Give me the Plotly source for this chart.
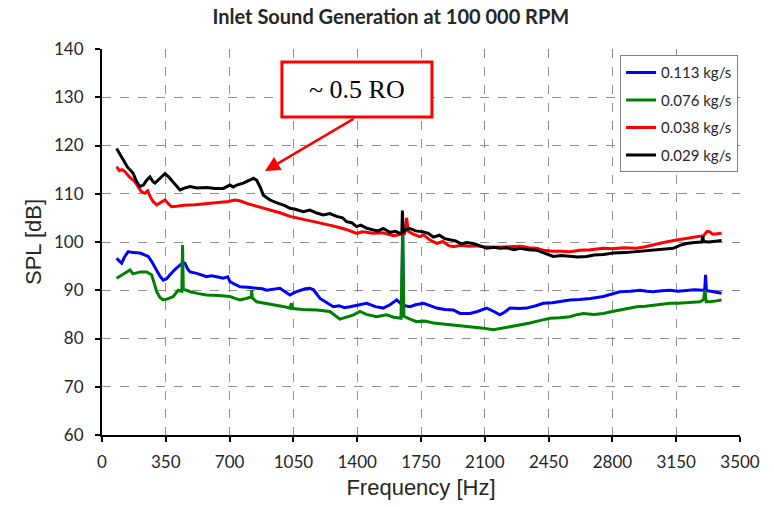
import plotly.graph_objects as go

# ---------------- data ----------------
series_names = ["0.113 kg/s", "0.076 kg/s", "0.038 kg/s", "0.029 kg/s"]
series_colors = ["#0000ff", "#008000", "#ff0000", "#000000"]

freq_blue = [80, 95, 108, 125, 144, 170, 208, 230, 254, 275, 300, 318, 336, 355, 373, 400, 428, 445, 455, 470,
             483, 520, 574, 600, 629, 665, 690, 702, 730, 757, 800, 849, 880, 903, 940, 976, 1000, 1031, 1060,
             1086, 1115, 1141, 1160, 1196, 1230, 1269, 1300, 1330, 1360, 1400, 1452, 1500, 1543, 1580, 1617,
             1640, 1645, 1649, 1653, 1660, 1690, 1720, 1763, 1800, 1836, 1880, 1927, 1964, 2019, 2060, 2110,
             2150, 2183, 2210, 2238, 2290, 2329, 2380, 2421, 2470, 2520, 2567, 2620, 2680, 2750, 2800, 2841,
             2900, 2951, 2990, 3024, 3070, 3116, 3160, 3207, 3250, 3298, 3306, 3311, 3316, 3340, 3370, 3399]
spl_blue = [96.6, 96.0, 95.6, 97.0, 98.0, 97.8, 97.7, 97.4, 97.0, 95.8, 94.2, 92.9, 92.1, 92.4, 93.2, 94.3, 95.2,
            95.7, 95.6, 94.4, 93.8, 93.5, 92.8, 93.0, 92.8, 92.5, 92.8, 91.8, 91.2, 90.7, 90.6, 90.4, 90.3, 90.0,
            90.2, 90.4, 89.8, 89.0, 89.6, 90.0, 90.3, 90.4, 90.1, 88.3, 87.5, 86.6, 86.8, 86.4, 86.6, 86.9, 87.3,
            86.6, 86.3, 87.0, 88.0, 87.2, 87.5, 103.3, 87.3, 86.8, 86.6, 87.0, 87.3, 86.8, 86.3, 86.0, 85.9, 85.2,
            85.2, 85.6, 86.3, 85.6, 84.9, 85.5, 86.3, 86.2, 86.3, 86.8, 87.3, 87.4, 87.7, 88.0, 88.1, 88.3, 88.7,
            89.2, 89.7, 89.8, 90.0, 89.8, 89.7, 89.9, 90.0, 89.8, 90.0, 90.1, 90.0, 89.9, 93.2, 89.9, 89.8, 89.6,
            89.4]

freq_green = [80, 100, 130, 154, 170, 181, 210, 245, 272, 290, 300, 318, 336, 360, 391, 418, 438, 442, 446, 470,
              483, 530, 574, 640, 702, 730, 757, 790, 818, 821, 825, 849, 900, 958, 1000, 1031, 1040, 1046, 1100,
              1178, 1250, 1305, 1340, 1380, 1415, 1450, 1507, 1561, 1600, 1640, 1650, 1656, 1690, 1726, 1770,
              1818, 1870, 1927, 1970, 2019, 2080, 2147, 2190, 2238, 2290, 2348, 2400, 2458, 2510, 2567, 2600,
              2640, 2700, 2750, 2800, 2841, 2890, 2933, 2980, 3024, 3070, 3116, 3160, 3207, 3250, 3280, 3300,
              3307, 3315, 3335, 3370, 3399]
spl_green = [92.5, 93.0, 93.6, 94.2, 93.4, 93.5, 93.8, 93.8, 93.2, 91.0, 89.7, 88.5, 88.0, 88.2, 88.7, 90.0, 89.8,
             99.4, 90.2, 89.9, 89.7, 89.3, 89.0, 88.9, 88.7, 88.3, 88.0, 88.3, 88.6, 90.0, 88.4, 87.6, 87.3, 86.9,
             86.6, 86.3, 87.3, 86.2, 86.0, 85.9, 85.6, 84.0, 84.4, 84.9, 85.6, 85.0, 84.5, 84.9, 84.4, 84.2, 101.5,
             84.6, 84.0, 83.5, 83.6, 83.2, 83.0, 82.8, 82.6, 82.4, 82.2, 81.8, 82.1, 82.4, 82.8, 83.2, 83.7, 84.2,
             84.3, 84.5, 84.9, 85.2, 85.0, 85.2, 85.6, 85.9, 86.2, 86.6, 86.7, 86.9, 87.0, 87.3, 87.3, 87.4, 87.5,
             87.6, 88.0, 90.0, 87.6, 87.6, 87.8, 88.0]

freq_red = [80, 95, 110, 126, 150, 181, 200, 217, 236, 250, 263, 280, 300, 320, 346, 365, 382, 410, 450, 510, 560,
            620, 692, 729, 760, 794, 821, 860, 900, 930, 980, 1031, 1080, 1130, 1180, 1214, 1260, 1300, 1340, 1397,
            1430, 1488, 1540, 1600, 1635, 1660, 1671, 1680, 1710, 1744, 1763, 1800, 1836, 1870, 1900, 1927, 1970,
            2010, 2050, 2092, 2150, 2200, 2256, 2300, 2340, 2384, 2420, 2470, 2520, 2567, 2620, 2680, 2750, 2800,
            2860, 2933, 2980, 3024, 3080, 3152, 3200, 3262, 3300, 3320, 3335, 3350, 3370, 3399]
spl_red = [115.6, 114.8, 115.0, 114.6, 113.5, 112.5, 111.3, 110.4, 110.1, 110.6, 109.5, 108.4, 107.7, 108.2, 108.7,
           107.9, 107.3, 107.4, 107.6, 107.7, 107.9, 108.0, 108.4, 108.7, 108.5, 108.0, 107.7, 107.3, 106.9, 106.6,
           106.0, 105.3, 104.9, 104.6, 104.1, 103.9, 103.4, 103.0, 102.6, 101.8, 102.1, 101.8, 101.9, 101.3, 101.5,
           101.7, 105.0, 102.2, 101.6, 101.1, 101.5, 100.4, 99.7, 100.1, 99.3, 99.0, 99.3, 99.1, 99.2, 99.0, 98.9,
           99.0, 99.0, 99.1, 98.8, 98.7, 98.3, 98.1, 98.1, 98.0, 98.3, 98.4, 98.7, 98.6, 98.8, 98.7, 99.0, 99.4,
           99.9, 100.4, 100.7, 101.1, 101.3, 102.2, 102.1, 101.6, 101.7, 101.8]

freq_black = [80, 95, 117, 140, 170, 190, 208, 227, 245, 263, 280, 291, 320, 346, 365, 382, 405, 428, 455, 483, 520,
              574, 620, 665, 702, 720, 739, 775, 810, 830, 849, 870, 885, 922, 960, 1000, 1031, 1060, 1104, 1140,
              1178, 1214, 1250, 1287, 1320, 1342, 1370, 1397, 1420, 1450, 1488, 1515, 1543, 1580, 1610, 1635, 1645,
              1648, 1652, 1665, 1690, 1720, 1763, 1790, 1818, 1850, 1880, 1909, 1940, 1970, 2000, 2037, 2070, 2110,
              2150, 2183, 2220, 2260, 2293, 2340, 2384, 2420, 2450, 2476, 2520, 2567, 2610, 2659, 2700, 2750, 2805,
              2870, 2933, 2980, 3024, 3080, 3134, 3170, 3207, 3250, 3290, 3296, 3300, 3330, 3370, 3399]
spl_black = [119.4, 118.5, 117.0, 115.5, 114.3, 112.5, 111.5, 111.8, 112.8, 113.5, 112.5, 112.2, 113.2, 114.2, 113.5,
             112.8, 111.8, 110.8, 111.2, 111.5, 111.2, 111.3, 111.1, 111.1, 111.8, 111.4, 111.8, 112.2, 112.8, 113.2,
             112.8, 111.2, 109.7, 108.7, 108.1, 107.6, 107.0, 106.8, 106.3, 106.6, 106.0, 105.6, 105.9, 105.3, 105.0,
             104.2, 104.0, 103.2, 103.5, 102.9, 102.5, 102.3, 102.8, 102.0, 102.2, 101.8, 101.9, 106.5, 102.0, 102.5,
             102.8, 102.3, 102.1, 101.8, 101.0, 101.4, 100.7, 100.4, 100.2, 99.6, 99.9, 99.7, 99.2, 98.7, 98.9, 98.7,
             98.8, 98.4, 98.7, 98.4, 98.3, 97.8, 97.3, 97.0, 97.2, 97.0, 96.9, 97.0, 97.3, 97.4, 97.7, 97.8, 98.0,
             98.1, 98.3, 98.5, 98.7, 99.3, 99.7, 99.9, 100.0, 101.2, 100.1, 100.0, 100.2, 100.3]

x_ticks = [0, 350, 700, 1050, 1400, 1750, 2100, 2450, 2800, 3150, 3500]
y_ticks = [60, 70, 80, 90, 100, 110, 120, 130, 140]

title_text = "Inlet Sound Generation at 100 000 RPM"
annot_text = "~ 0.5 RO"

# ---------------- figure ----------------
fig = go.Figure()
for i, (name, color, fx, fy) in enumerate(zip(series_names, series_colors,
                                              [freq_blue, freq_green, freq_red, freq_black],
                                              [spl_blue, spl_green, spl_red, spl_black])):
    fig.add_trace(go.Scatter(x=fx, y=fy, mode="lines", name=name, legendgroup="g%d" % i,
                             line=dict(color=color, width=3)))

tick_font = dict(family="Lato, Calibri, sans-serif", size=17, color="#262626")
axis_title_font = dict(family="Liberation Sans, Arial, sans-serif", size=22, color="#262626")

fig.update_layout(
    width=774, height=507,
    margin=dict(l=102, r=34, t=49, b=72),
    paper_bgcolor="white", plot_bgcolor="white",
    title=dict(text="<b>" + title_text + "</b>", x=0.505, xanchor="center", xref="container",
               y=0.966, yanchor="middle", yref="container",
               font=dict(family="Lato, Calibri, sans-serif", size=20, color="#262626")),
    showlegend=True,
    legend=dict(x=0.812, y=0.984, xanchor="left", yanchor="top",
                bgcolor="white", bordercolor="#808080", borderwidth=1,
                font=dict(family="Lato, Calibri, sans-serif", size=15, color="#262626"),
                itemwidth=30, tracegroupgap=5),
)

fig.update_xaxes(range=[0, 3500], tickvals=x_ticks, ticktext=[str(v) for v in x_ticks],
                 showgrid=True, gridcolor="#909090", griddash="dash", gridwidth=1,
                 showline=True, linecolor="black", linewidth=2,
                 ticks="outside", ticklen=5, tickwidth=2, tickcolor="black",
                 ticklabelstandoff=6,
                 tickfont=tick_font, zeroline=False,
                 title=dict(text="Frequency [Hz]", font=axis_title_font, standoff=8))
fig.update_yaxes(range=[60, 140], tickvals=y_ticks, ticktext=[str(v) for v in y_ticks],
                 showgrid=True, gridcolor="#909090", griddash="dash", gridwidth=1,
                 showline=True, linecolor="black", linewidth=2,
                 ticks="outside", ticklen=5, tickwidth=2, tickcolor="black",
                 ticklabelstandoff=8,
                 tickfont=tick_font, zeroline=False,
                 title=dict(text="SPL [dB]", font=axis_title_font, standoff=6))

# annotation box with text
fig.add_shape(type="rect", xref="x", yref="y", x0=987, x1=1810, y0=125.9, y1=137.3,
              line=dict(color="#ff0000", width=3), fillcolor="white", layer="above")
fig.add_annotation(x=1398, y=131.6, xref="x", yref="y", text=annot_text, showarrow=False,
                   font=dict(family="Liberation Serif, Times New Roman, serif", size=26, color="black"))
fig.add_annotation(x=894, y=114.7, xref="x", yref="y", ax=1388, ay=125.7, axref="x", ayref="y",
                   text="", showarrow=True, arrowhead=2, arrowsize=1.2, arrowwidth=2.5,
                   arrowcolor="#ff0000")

fig.write_html("out.html")
